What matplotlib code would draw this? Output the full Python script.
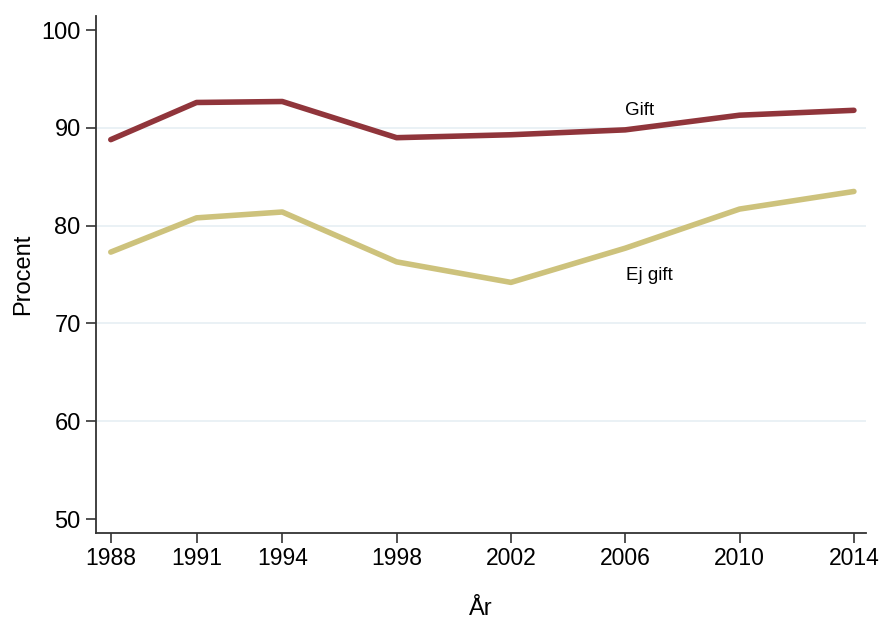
import numpy as np
import matplotlib.pyplot as plt

plt.rcParams['font.family'] = ['Liberation Sans', 'DejaVu Sans']

years = [1988, 1991, 1994, 1998, 2002, 2006, 2010, 2014]
gift = [88.8, 92.6, 92.7, 89.0, 89.3, 89.8, 91.3, 91.8]
ej_gift = [77.3, 80.8, 81.4, 76.3, 74.2, 77.7, 81.7, 83.5]
yticks = [50, 60, 70, 80, 90, 100]

fig = plt.figure(figsize=(8.8, 6.21), dpi=100)
ax = fig.add_axes([0.109, 0.1417, 0.875, 0.8323])

for y in [60, 70, 80, 90]:
    ax.axhline(y, color='#e6eff4', lw=1.2, zorder=0)

ax.plot(years, gift, color='#90353b', lw=4, solid_capstyle='round')
ax.plot(years, ej_gift, color='#cdc27c', lw=4, solid_capstyle='round')

ax.text(2006.5, 91.8, 'Gift', fontsize=13.5, ha='center', va='center')
ax.text(2006.85, 74.9, 'Ej gift', fontsize=13.5, ha='center', va='center')

ax.set_xlim(1987.48, 2014.42)
ax.set_ylim(48.57, 101.43)
ax.set_xticks(years)
ax.set_yticks(yticks)
ax.tick_params(axis='both', direction='out', length=7, width=1.2, color='#333333')
ax.tick_params(axis='x', labelsize=16.5, pad=3)
ax.tick_params(axis='y', labelsize=17, pad=4)

for s in ['top', 'right']:
    ax.spines[s].set_visible(False)
for s in ['left', 'bottom']:
    ax.spines[s].set_color('#333333')
    ax.spines[s].set_linewidth(1.3)

ax.set_xlabel('År', fontsize=17, labelpad=20)
ax.set_ylabel('Procent', fontsize=17, labelpad=5)

fig.savefig('out.png', dpi=100)
